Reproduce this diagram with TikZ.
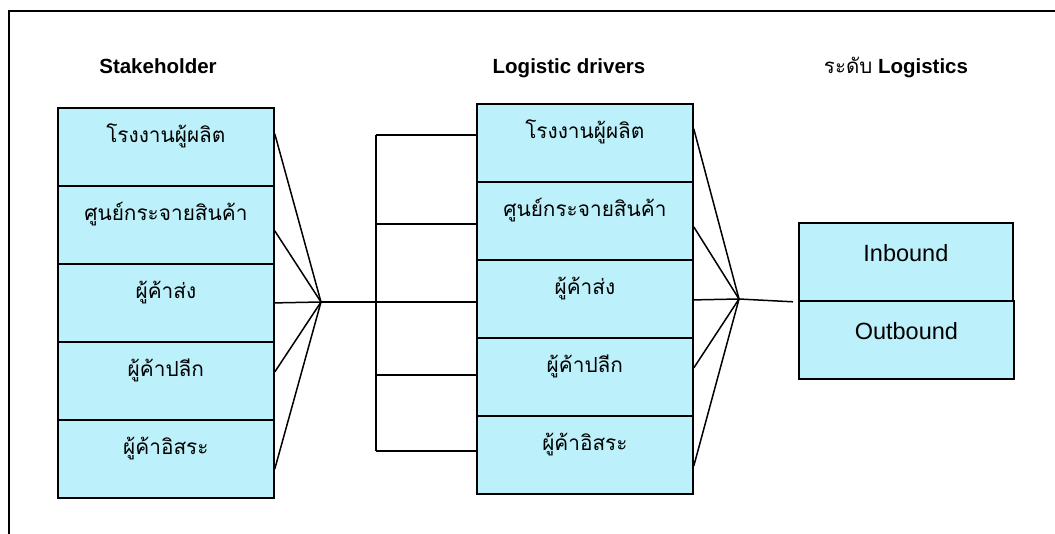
\documentclass[tikz,border=0pt]{standalone}
\usepackage{fontspec}
\setmainfont{Liberation Sans}
\newfontfamily\thaifont[Script=Thai]{Loma}
\usetikzlibrary{calc}
\definecolor{boxcyan}{RGB}{188,240,250}
\tikzset{
  x=1pt, y=-1pt,
  frameline/.style={line width=1.7pt, line cap=rect},
  conn/.style={line width=1.5pt},
  titletext/.style={font=\fontsize{20.5}{24}\selectfont\bfseries, anchor=base, inner sep=0},
  thaibox/.style={draw, line width=1.8pt, fill=boxcyan, rectangle, anchor=north west,
    minimum width=216pt, inner sep=0pt, text height=35pt, text depth=43pt,
    font=\thaifont\fontsize{20.8}{24}\selectfont},
  latbox/.style={draw, line width=1.8pt, fill=boxcyan, rectangle, anchor=north west,
    minimum width=214pt, inner sep=0pt, text height=39pt, text depth=39pt,
    font=\fontsize{23.5}{28}\selectfont},
}
\begin{document}
\begin{tikzpicture}
\useasboundingbox (0,0) rectangle (1055,533);
% outer frame (top and left only)
\coordinate (fbl) at (9,533);
\coordinate (ftl) at (9,11);
\coordinate (ftr) at (1055,11);
\draw[frameline] (fbl) -- (ftl) -- (ftr);

% titles
\node[titletext] (t1) at (158,73) {Stakeholder};
\node[titletext] (t2) at (569,73) {Logistic drivers};
\node[titletext] (t3) at (896,73) {{\thaifont\mdseries ระดับ} Logistics};

% left column
\node[thaibox] (L1) at (57,107) {โรงงานผู้ผลิต};
\node[thaibox] (L2) at (57,185) {ศูนย์กระจายสินค้า};
\node[thaibox] (L3) at (57,263) {ผู้ค้าส่ง};
\node[thaibox] (L4) at (57,341) {ผู้ค้าปลีก};
\node[thaibox] (L5) at (57,419) {ผู้ค้าอิสระ};

% middle column
\node[thaibox] (M1) at (476,103) {โรงงานผู้ผลิต};
\node[thaibox] (M2) at (476,181) {ศูนย์กระจายสินค้า};
\node[thaibox] (M3) at (476,259) {ผู้ค้าส่ง};
\node[thaibox] (M4) at (476,337) {ผู้ค้าปลีก};
\node[thaibox] (M5) at (476,415) {ผู้ค้าอิสระ};

% right column
\node[latbox] (In) at (798,222) {Inbound};
\node[latbox, minimum width=215pt] (Out) at (798,300) {Outbound};

% left fan
\coordinate (hubL) at (321,302);
\draw[conn] ($(L1.east)+(0,-13)$) -- (hubL);
\draw[conn] ($(L2.east)+(0,6)$) -- (hubL);
\draw[conn] (L3.east) -- (hubL);
\draw[conn] ($(L4.east)+(0,-9)$) -- (hubL);
\draw[conn] ($(L5.east)+(0,10)$) -- (hubL);
\draw[conn] (hubL) -- (M3.west |- hubL);

% bracket
\coordinate (bt) at (376,135);
\coordinate (b2) at (376,224);
\coordinate (b4) at (376,375);
\coordinate (bb) at (376,451);
\draw[conn] (bt) -- (bb);
\draw[conn] (bt) -- (M1.west |- bt);
\draw[conn] (b2) -- (M2.west |- b2);
\draw[conn] (b4) -- (M4.west |- b4);
\draw[conn] (bb) -- (M5.west |- bb);

% right fan
\coordinate (hubR) at (739,299);
\draw[conn] ($(M1.east)+(0,-14)$) -- (hubR);
\draw[conn] ($(M2.east)+(0,6)$) -- (hubR);
\draw[conn] ($(M3.east)+(0,1)$) -- (hubR);
\draw[conn] ($(M4.east)+(0,-9)$) -- (hubR);
\draw[conn] ($(M5.east)+(0,11)$) -- (hubR);
\draw[conn] (hubR) -- ($(In.south west)+(-5,0)$);
\end{tikzpicture}
\end{document}
